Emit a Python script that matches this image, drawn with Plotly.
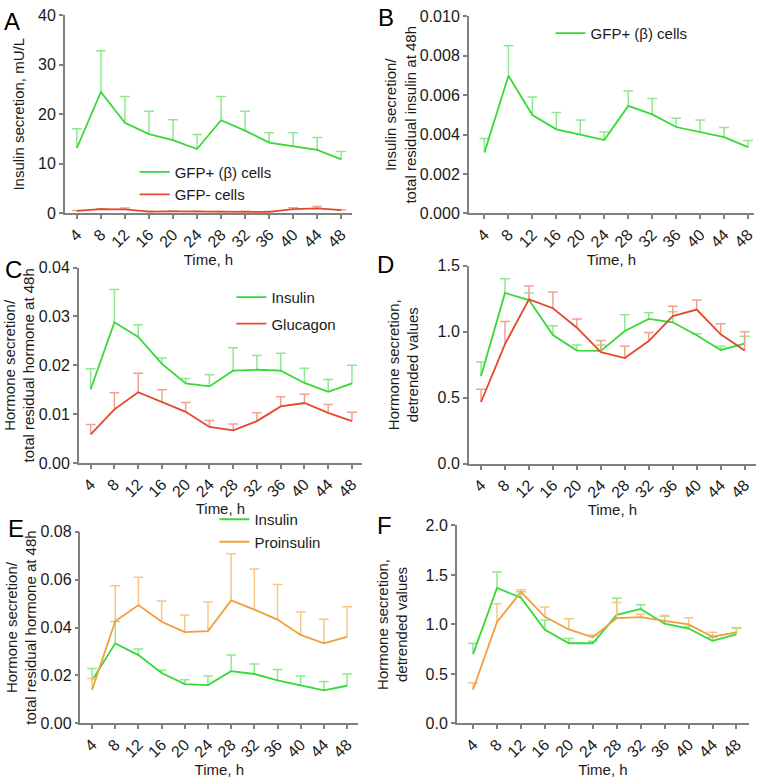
import plotly.graph_objects as go

W, H = 762, 781

time_h = [4, 8, 12, 16, 20, 24, 28, 32, 36, 40, 44, 48]
time_labels = [str(t) for t in time_h]

# ---- Panel A: insulin secretion, mU/L ----
a_gfp_pos = [13.2, 24.5, 18.3, 16.0, 14.8, 13.0, 18.8, 16.7, 14.3, 13.6, 12.8, 10.9]
a_gfp_pos_err = [3.9, 8.3, 5.3, 4.6, 4.1, 2.9, 4.8, 3.9, 2.0, 2.7, 2.5, 1.6]
a_gfp_neg = [0.5, 0.85, 0.8, 0.35, 0.4, 0.35, 0.3, 0.25, 0.3, 0.85, 1.0, 0.65]
a_gfp_neg_err = [0.1, 0.1, 0.3, 0.1, 0.1, 0.1, 0.1, 0.2, 0.1, 0.3, 0.4, 0.1]

# ---- Panel B: insulin secretion / total residual insulin at 48h ----
b_gfp_pos = [0.00309, 0.00698, 0.00499, 0.00426, 0.00400, 0.00372,
             0.00545, 0.00502, 0.00438, 0.00412, 0.00387, 0.00336]
b_gfp_pos_err = [0.00071, 0.00152, 0.00091, 0.00086, 0.00074, 0.00041,
                 0.00075, 0.00080, 0.00045, 0.00062, 0.00049, 0.00034]

# ---- Panel C: hormone secretion / total residual hormone ----
c_insulin = [0.0151, 0.0288, 0.0258, 0.0203, 0.0163, 0.0157,
             0.0189, 0.0191, 0.0189, 0.0164, 0.0146, 0.0163]
c_insulin_err = [0.0042, 0.0067, 0.0025, 0.0012, 0.0010, 0.0024,
                 0.0047, 0.0029, 0.0036, 0.0030, 0.0025, 0.0037]
c_glucagon = [0.0059, 0.0110, 0.0145, 0.0125, 0.0105, 0.0074,
              0.0067, 0.0086, 0.0116, 0.0123, 0.0103, 0.0086]
c_glucagon_err = [0.0020, 0.0034, 0.0039, 0.0025, 0.0019, 0.0013,
                  0.0013, 0.0017, 0.0020, 0.0018, 0.0017, 0.0018]

# ---- Panel D: detrended values (insulin / glucagon) ----
d_insulin = [0.665, 1.293, 1.239, 0.975, 0.857, 0.855, 1.005, 1.096, 1.071, 0.973, 0.862, 0.909]
d_insulin_err = [0.105, 0.107, 0.054, 0.069, 0.043, 0.045, 0.123, 0.047, 0.079, 0.012, 0.028, 0.057]
d_glucagon = [0.468, 0.906, 1.244, 1.177, 1.030, 0.845, 0.800, 0.929, 1.118, 1.167, 0.980, 0.857]
d_glucagon_err = [0.096, 0.170, 0.101, 0.123, 0.066, 0.089, 0.090, 0.064, 0.074, 0.072, 0.079, 0.143]

# ---- Panel E: hormone secretion / total residual hormone (insulin / proinsulin) ----
e_insulin = [0.0179, 0.0334, 0.0285, 0.0210, 0.0164, 0.0160,
             0.0218, 0.0206, 0.0179, 0.0160, 0.0138, 0.0157]
e_insulin_err = [0.0050, 0.0091, 0.0025, 0.0012, 0.0018, 0.0038,
                 0.0067, 0.0042, 0.0046, 0.0038, 0.0037, 0.0049]
e_proinsulin = [0.0140, 0.0426, 0.0494, 0.0424, 0.0381, 0.0385,
                0.0513, 0.0475, 0.0433, 0.0369, 0.0334, 0.0361]
e_proinsulin_err = [0.0047, 0.0148, 0.0116, 0.0087, 0.0071, 0.0121,
                    0.0195, 0.0169, 0.0146, 0.0096, 0.0101, 0.0126]

# ---- Panel F: detrended values (insulin / proinsulin) ----
f_insulin = [0.700, 1.370, 1.270, 0.945, 0.810, 0.810, 1.097, 1.157, 1.008, 0.959, 0.834, 0.900]
f_insulin_err = [0.110, 0.160, 0.060, 0.100, 0.047, 0.020, 0.168, 0.043, 0.076, 0.021, 0.036, 0.062]
f_proinsulin = [0.343, 1.025, 1.328, 1.077, 0.949, 0.870, 1.064, 1.074, 1.035, 1.000, 0.876, 0.920]
f_proinsulin_err = [0.067, 0.185, 0.022, 0.099, 0.109, 0.023, 0.158, 0.030, 0.055, 0.067, 0.044, 0.049]

GREEN, GREEN_L = "#36d936", "#8fe88f"
RED, RED_L = "#e4482c", "#f2a190"
ORANGE, ORANGE_L = "#f0a03a", "#f6c685"
AXIS = "#808080"
FONT = "Arial, Liberation Sans, Helvetica, sans-serif"

fig = go.Figure()


def add_series(ax, vals, errs, color, light, name, legend=None):
    xa = "x" if ax == 1 else f"x{ax}"
    ya = "y" if ax == 1 else f"y{ax}"
    caps = [v + e for v, e in zip(vals, errs)]
    # upper-only error bars: cap marker at top, whisker down to the mean
    fig.add_trace(go.Scatter(
        x=time_h, y=caps, mode="markers", xaxis=xa, yaxis=ya, showlegend=False,
        hoverinfo="skip",
        marker=dict(symbol="line-ew", size=7, line=dict(color=light, width=1.5)),
        error_y=dict(type="data", symmetric=False, array=[0] * len(vals),
                     arrayminus=errs, width=0, thickness=1.5, color=light),
    ))
    fig.add_trace(go.Scatter(
        x=time_h, y=vals, mode="lines", name=name, xaxis=xa, yaxis=ya,
        line=dict(color=color, width=1.8),
        showlegend=legend is not None, legend=legend or "legend",
        legendgroup=f"{ax}-{name}",
    ))


add_series(1, a_gfp_pos, a_gfp_pos_err, GREEN, GREEN_L, "GFP+ (β) cells", "legend")
add_series(1, a_gfp_neg, a_gfp_neg_err, RED, RED_L, "GFP- cells", "legend")
add_series(2, b_gfp_pos, b_gfp_pos_err, GREEN, GREEN_L, "GFP+ (β) cells", "legend2")
add_series(3, c_insulin, c_insulin_err, GREEN, GREEN_L, "Insulin", "legend3")
add_series(3, c_glucagon, c_glucagon_err, RED, RED_L, "Glucagon", "legend3")
add_series(4, d_insulin, d_insulin_err, GREEN, GREEN_L, "Insulin")
add_series(4, d_glucagon, d_glucagon_err, RED, RED_L, "Glucagon")
add_series(5, e_insulin, e_insulin_err, GREEN, GREEN_L, "Insulin", "legend4")
add_series(5, e_proinsulin, e_proinsulin_err, ORANGE, ORANGE_L, "Proinsulin", "legend4")
add_series(6, f_insulin, f_insulin_err, GREEN, GREEN_L, "Insulin")
add_series(6, f_proinsulin, f_proinsulin_err, ORANGE, ORANGE_L, "Proinsulin")

# panel geometry in pixels:
# (x_left, x_right, y_top, y_bottom, xrange, yrange, dtick, fmt, ytitle, title standoff)
panels = {
    1: (65, 353, 7.3, 210, [2.0, 49.8], [0, 40], 10, "d", "Insulin secretion, mU/L", 10),
    2: (470, 756, 8.3, 210, [1.38, 49.0], [0, 0.010], 0.002, ".3f",
        "Insulin secretion/<br>total residual insulin at 48h", 0),
    3: (79, 363, 265.3, 465.3, [2.0, 49.7], [0, 0.04], 0.01, ".2f",
        "Hormone secretion/<br>total residual hormone at 48h", 0),
    4: (470, 758, 263.3, 466, [1.95, 49.9], [0, 1.5], 0.5, ".1f",
        "Hormone secretion,<br>detrended values", 15),
    5: (80.7, 359, 535.3, 731.3, [2.0, 49.9], [0, 0.08], 0.02, ".2f",
        "Hormone secretion/<br>total residual hormone at 48h", 0),
    6: (458, 751, 529, 731.3, [1.28, 50.1], [0, 2.0], 0.5, ".1f",
        "Hormone secretion,<br>detrended values", 14),
}

layout = dict(
    width=W, height=H, margin=dict(l=0, r=0, t=0, b=0),
    paper_bgcolor="white", plot_bgcolor="white",
    font=dict(family=FONT, size=15, color="#1a1a1a"),
)
for k, (x0, x1, yt, yb, xr, yr, dt, fmt, ytitle, ystand) in panels.items():
    sfx = "" if k == 1 else str(k)
    layout[f"xaxis{sfx}"] = dict(
        domain=[x0 / W, x1 / W], range=xr, anchor=f"y{sfx}",
        tickmode="array", tickvals=time_h, ticktext=time_labels, tickangle=-45,
        showline=True, linecolor=AXIS, linewidth=1.5, ticks="outside", ticklen=4,
        tickcolor=AXIS, tickwidth=1.5, showgrid=False, zeroline=False,
        tickfont=dict(size=16), title=dict(text="Time, h", standoff=1, font=dict(size=15)),
    )
    layout[f"yaxis{sfx}"] = dict(
        domain=[1 - yb / H, 1 - yt / H], range=yr, anchor=f"x{sfx}",
        dtick=dt, tick0=0, tickformat=fmt,
        showline=True, linecolor=AXIS, linewidth=1.5, ticks="outside", ticklen=4,
        tickcolor=AXIS, tickwidth=1.5, showgrid=False, zeroline=False,
        tickfont=dict(size=16), title=dict(text=ytitle, standoff=ystand, font=dict(size=15)),
    )

leg_common = dict(bgcolor="rgba(0,0,0,0)", borderwidth=0, xanchor="left", yanchor="top",
                  font=dict(size=15), tracegroupgap=0, orientation="v")
layout["legend"] = dict(leg_common, x=135 / W, y=1 - 151 / H)
layout["legend2"] = dict(leg_common, x=552 / W, y=1 - 9 / H)
layout["legend3"] = dict(leg_common, x=232 / W, y=1 - 279 / H, tracegroupgap=4)
layout["legend4"] = dict(leg_common, x=215 / W, y=1 - 506 / H)

letters = [("A", 12, 14), ("B", 387, 10), ("C", 14, 267),
           ("D", 387, 262), ("E", 16, 532), ("F", 386, 529)]
layout["annotations"] = [
    dict(text=t, x=px / W, y=1 - py / H, xref="paper", yref="paper",
         xanchor="center", yanchor="middle", showarrow=False,
         font=dict(size=24, color="black", family=FONT))
    for t, px, py in letters
]

fig.update_layout(**layout)
fig.write_html("out.html", config={"displayModeBar": False},
               post_script="document.body.style.margin='0';")
